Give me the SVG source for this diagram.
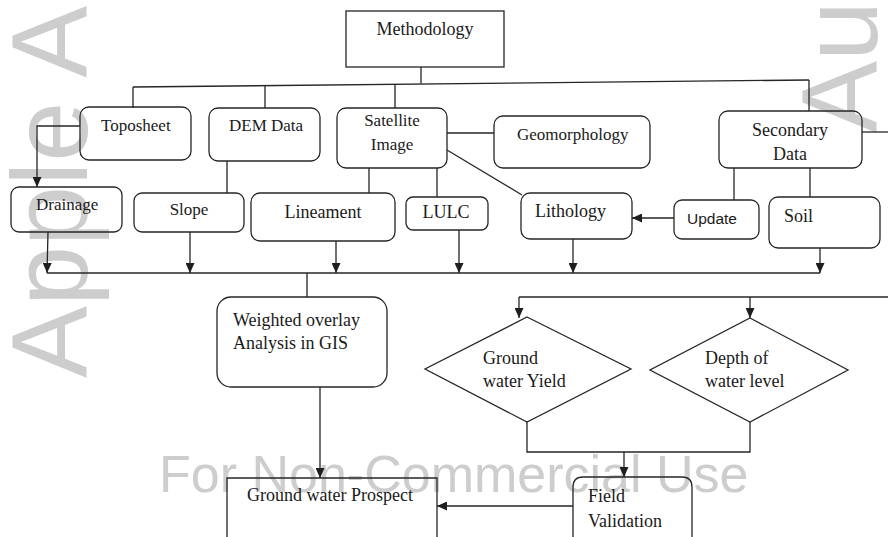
<svg xmlns="http://www.w3.org/2000/svg" width="888" height="537" viewBox="0 0 888 537">
  <defs>
    <marker id="arrow" markerUnits="userSpaceOnUse" markerWidth="10" markerHeight="9" refX="10" refY="4.5" orient="auto">
      <path d="M0,0 L10,4.5 L0,9 z" fill="#1e1e1e"/>
    </marker>
    <style>
      .box { fill: none; stroke: #262626; stroke-width: 1.3; }
      .line { fill: none; stroke: #262626; stroke-width: 1.3; }
      .arr { fill: none; stroke: #262626; stroke-width: 1.3; marker-end: url(#arrow); }
      .lbl { font-family: "Liberation Serif", "Times New Roman", serif; font-size: 18px; fill: #1a1a1a; }
      .sm { font-size: 17px; }
      .sans { font-family: "Liberation Sans", Arial, sans-serif; font-size: 15.5px; fill: #1a1a1a; }
      .wm { font-family: "Liberation Sans", Arial, sans-serif; font-size: 108px; fill: #cdcdcd; }
      .wm2 { font-family: "Liberation Sans", Arial, sans-serif; font-size: 52px; fill: #cdcdcd; }
    </style>
  </defs>

  <rect width="888" height="537" fill="#ffffff"/>

  <!-- watermark lettering -->
  <g id="watermark">
    <text class="wm" transform="translate(87,378) rotate(-90)">Apple A</text>
    <text class="wm" transform="translate(877,133) rotate(-90)">Aut</text>
    <text class="wm2" x="159" y="492">For Non-Commercial Use</text>
  </g>

  <!-- connectors -->
  <g id="connectors">
    <!-- top distribution bus -->
    <line class="line" x1="421" y1="67" x2="421" y2="83.5"/>
    <line class="line" x1="133" y1="87" x2="809" y2="80"/>
    <line class="line" x1="133" y1="87" x2="133" y2="108"/>
    <line class="line" x1="265" y1="86" x2="265" y2="108"/>
    <line class="line" x1="395" y1="85" x2="395" y2="108"/>
    <line class="line" x1="809" y1="80" x2="809" y2="111"/>

    <!-- source links -->
    <path class="arr" d="M80,126 H37 V187"/>
    <line class="line" x1="227" y1="161" x2="227" y2="193"/>
    <line class="line" x1="369" y1="168" x2="369" y2="193"/>
    <line class="line" x1="437" y1="168" x2="437" y2="197"/>
    <line class="line" x1="447" y1="133" x2="494" y2="133"/>
    <line class="line" x1="447" y1="150" x2="522" y2="195"/>
    <line class="line" x1="862" y1="132" x2="888" y2="132"/>
    <line class="line" x1="734" y1="168" x2="734" y2="200"/>
    <line class="line" x1="810" y1="168" x2="810" y2="197"/>
    <line class="arr" x1="674" y1="218" x2="632" y2="218"/>

    <!-- collector bus -->
    <line class="line" x1="47" y1="273" x2="820" y2="273"/>
    <line class="arr" x1="48" y1="232" x2="47" y2="273"/>
    <line class="arr" x1="190" y1="232" x2="190" y2="273"/>
    <line class="arr" x1="336" y1="241" x2="336" y2="273"/>
    <line class="arr" x1="459" y1="230" x2="459" y2="273"/>
    <line class="arr" x1="573" y1="239" x2="573" y2="273"/>
    <line class="arr" x1="820" y1="248" x2="820" y2="273"/>
    <line class="line" x1="307" y1="273" x2="307" y2="297"/>

    <!-- overlay to prospect -->
    <line class="arr" x1="320" y1="387" x2="320" y2="478"/>

    <!-- field data branch -->
    <line class="line" x1="519" y1="297" x2="888" y2="297"/>
    <line class="arr" x1="519" y1="297" x2="519" y2="318"/>
    <line class="arr" x1="750" y1="297" x2="750" y2="318"/>
    <path class="line" d="M527,422 V452 H750 V422"/>
    <line class="arr" x1="624" y1="452" x2="624" y2="477"/>
    <line class="arr" x1="573" y1="506" x2="437" y2="506"/>
  </g>

  <!-- nodes -->
  <g id="methodology">
    <rect class="box" x="346" y="11" width="158" height="56"/>
    <text class="lbl" x="425" y="35" text-anchor="middle">Methodology</text>
  </g>

  <g id="toposheet">
    <rect class="box" x="80" y="107" width="111" height="53" rx="9"/>
    <text class="lbl sm" x="101" y="131">Toposheet</text>
  </g>

  <g id="dem-data">
    <rect class="box" x="209" y="108" width="111" height="53" rx="9"/>
    <text class="lbl sm" x="229" y="131">DEM Data</text>
  </g>

  <g id="satellite-image">
    <rect class="box" x="337" y="108" width="110" height="60" rx="9"/>
    <text class="lbl sm" x="392" y="126" text-anchor="middle">Satellite</text>
    <text class="lbl sm" x="392" y="150" text-anchor="middle">Image</text>
  </g>

  <g id="geomorphology">
    <rect class="box" x="494" y="116" width="156" height="52" rx="9"/>
    <text class="lbl sm" x="517" y="140">Geomorphology</text>
  </g>

  <g id="secondary-data">
    <rect class="box" x="719" y="111" width="143" height="57" rx="9"/>
    <text class="lbl" x="790" y="136" text-anchor="middle">Secondary</text>
    <text class="lbl" x="790" y="160" text-anchor="middle">Data</text>
  </g>

  <g id="drainage">
    <rect class="box" x="11" y="187" width="111" height="45" rx="8"/>
    <text class="lbl sm" x="36" y="210">Drainage</text>
  </g>

  <g id="slope">
    <rect class="box" x="134" y="193" width="110" height="39" rx="8"/>
    <text class="lbl sm" x="189" y="215" text-anchor="middle">Slope</text>
  </g>

  <g id="lineament">
    <rect class="box" x="251" y="193" width="144" height="48" rx="9"/>
    <text class="lbl" x="323" y="218" text-anchor="middle">Lineament</text>
  </g>

  <g id="lulc">
    <rect class="box" x="406" y="197" width="82" height="33" rx="7"/>
    <text class="lbl" x="446" y="218" text-anchor="middle">LULC</text>
  </g>

  <g id="lithology">
    <rect class="box" x="521" y="193" width="111" height="46" rx="9"/>
    <text class="lbl" x="535" y="217">Lithology</text>
  </g>

  <g id="update">
    <rect class="box" x="674" y="200" width="85" height="39" rx="8"/>
    <text class="sans" x="687" y="224">Update</text>
  </g>

  <g id="soil">
    <rect class="box" x="769" y="197" width="111" height="51" rx="9"/>
    <text class="lbl" x="784" y="222">Soil</text>
  </g>

  <g id="weighted-overlay">
    <rect class="box" x="217" y="297" width="170" height="90" rx="14"/>
    <text class="lbl" x="233" y="326">Weighted overlay</text>
    <text class="lbl" x="233" y="349">Analysis in GIS</text>
  </g>

  <g id="ground-water-yield">
    <polygon class="box" points="527,317 631,369 527,422 425,369"/>
    <text class="lbl" x="483" y="364">Ground</text>
    <text class="lbl" x="483" y="387">water Yield</text>
  </g>

  <g id="depth-of-water-level">
    <polygon class="box" points="750,318 848,370 750,422 650,370"/>
    <text class="lbl" x="705" y="364">Depth of</text>
    <text class="lbl" x="705" y="387">water level</text>
  </g>

  <g id="ground-water-prospect">
    <path class="box" d="M227,545 V478 H437 V545"/>
    <text class="lbl" x="247" y="501">Ground water Prospect</text>
  </g>

  <g id="field-validation">
    <path class="box" d="M573,545 V487 Q573,477 583,477 H682 Q692,477 692,487 V545"/>
    <text class="lbl" x="588" y="502">Field</text>
    <text class="lbl" x="588" y="527">Validation</text>
  </g>
</svg>
